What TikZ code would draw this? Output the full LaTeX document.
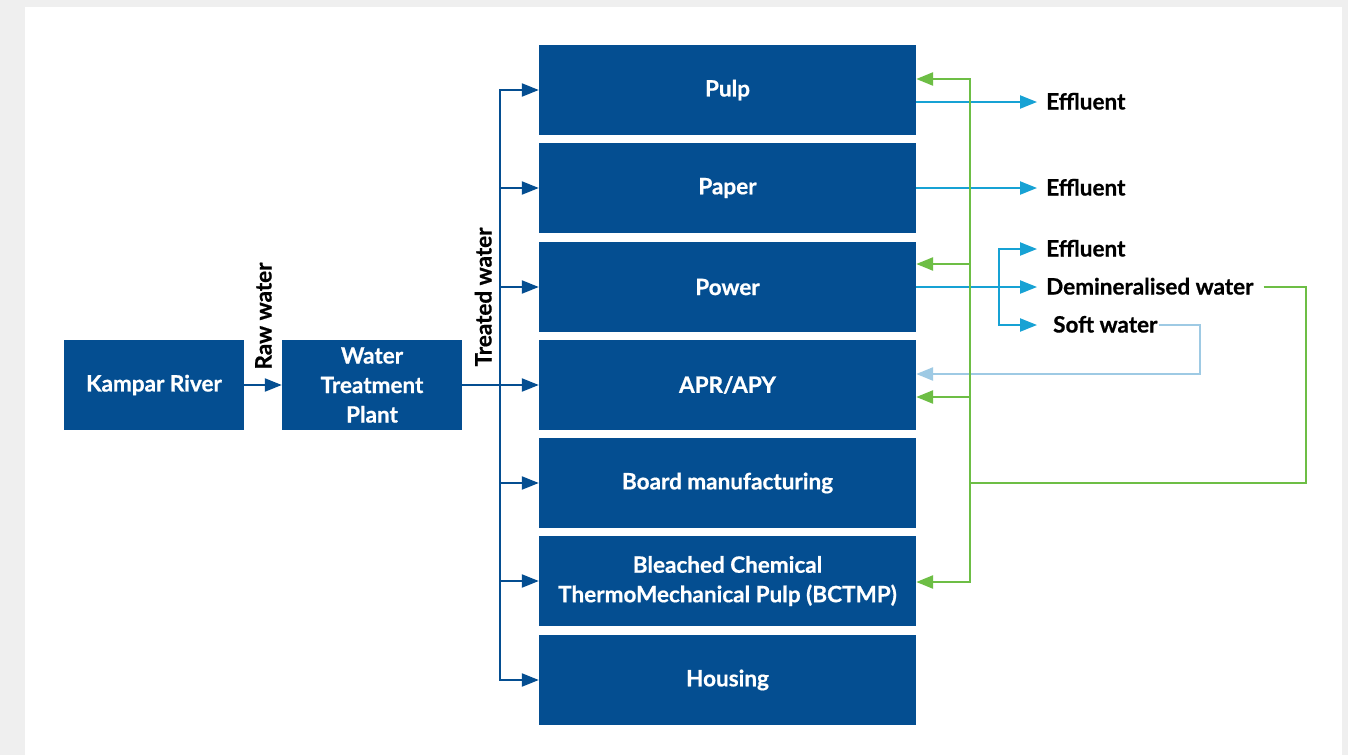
\documentclass[tikz,border=0pt]{standalone}
\usepackage{fontspec}
\setmainfont{Lato}[BoldFeatures={FakeBold=0.7}]
\usetikzlibrary{arrows.meta,calc}
\definecolor{boxblue}{RGB}{4,78,145}
\definecolor{bggrey}{RGB}{239,239,239}
\definecolor{effcyan}{RGB}{23,162,212}
\definecolor{recgreen}{RGB}{109,190,69}
\definecolor{softblue}{RGB}{158,202,228}
\tikzset{
  box/.style={fill=boxblue, text=white, font=\bfseries\fontsize{22.5}{29.5}\selectfont,
    minimum height=90pt, align=center, inner sep=0pt, draw=none},
  smallbox/.style={box, minimum width=180pt},
  bigbox/.style={box, minimum width=377pt},
  lab/.style={font=\bfseries\fontsize{22.5}{26}\selectfont, text=black, inner sep=0pt,
    text height=15pt, text depth=0pt},
  tip/.style={-{Triangle[length=17pt,width=13pt]}},
  darr/.style={draw=boxblue, line width=2.2pt, tip},
  carr/.style={draw=effcyan, line width=2.2pt, tip},
  garr/.style={draw=recgreen, line width=2.6pt, tip},
  gline/.style={draw=recgreen, line width=2.6pt},
  larr/.style={draw=softblue, line width=2.6pt, tip},
}
\begin{document}
\begin{tikzpicture}[x=1pt,y=-1pt]
\fill[bggrey] (0,0) rectangle (1348,755);
\fill[white] (25,7) rectangle (1342,755);
\useasboundingbox (0,0) rectangle (1348,755);

% left boxes
\node[smallbox] (kampar) at (154,385) {Kampar River};
\node[smallbox] (wtp) at (372,385) {Water\\Treatment\\Plant};

% right column
\node[bigbox] (pulp) at (727.5,90) {Pulp};
\node[bigbox] (paper) at (727.5,188) {Paper};
\node[bigbox] (power) at (727.5,287) {Power};
\node[bigbox] (apr) at (727.5,385) {APR/APY};
\node[bigbox] (board) at (727.5,483) {Board manufacturing};
\node[bigbox] (bctmp) at (727.5,581) {Bleached Chemical\\ThermoMechanical Pulp (BCTMP)};
\node[bigbox] (housing) at (727.5,680) {Housing};

% rotated labels
\node[lab, rotate=90] (raw) at (264,316) {Raw water};
\node[lab, rotate=90] (treated) at (484,297) {Treated water};

% blue supply
\draw[darr] (kampar) -- (wtp);
\coordinate (bus) at (500,385);
\draw[darr] (wtp.east) -- (apr.west);
\foreach \b in {pulp,paper,power,board,bctmp,housing}
  \draw[darr] (bus) |- (\b.west);

% right labels
\node[lab, anchor=west] (eff1) at (1046,102) {Effluent};
\node[lab, anchor=west] (eff2) at (1046,188) {Effluent};
\node[lab, anchor=west] (eff3) at (1046,249) {Effluent};
\node[lab, anchor=west] (demin) at (1046,287) {Demineralised water};
\node[lab, anchor=west] (soft) at (1053,325) {Soft water};

% effluent (cyan)
\draw[carr] ([yshift=-12pt]pulp.east) -- ([xshift=-9pt]eff1.west);
\draw[carr] (paper.east) -- ([xshift=-9pt]eff2.west);
\draw[carr] (power.east) -- ([xshift=-9pt]demin.west);
\coordinate (br) at (999,287);
\draw[carr] (br) |- ([xshift=-9pt]eff3.west);
\draw[carr] (br) |- ([xshift=-16pt]soft.west);

% soft water return (light blue)
\coordinate (lb) at (1200,374);
\draw[larr] ([xshift=1pt]soft.east) -| (lb) -- (lb -| apr.east);

% demineralised water return (green)
\coordinate (gr) at (1306,483);
\coordinate (gj) at (970,483);
\draw[gline] ([xshift=10pt]demin.east) -| (gr) -- (gj);
\draw[garr] (gj) |- ([yshift=11pt]pulp.east);
\draw[garr] (gj) |- ([yshift=23pt]power.east);
\draw[garr] (gj) |- ([yshift=-12pt]apr.east);
\draw[garr] (gj) |- ([yshift=-1pt]bctmp.east);
\end{tikzpicture}
\end{document}
